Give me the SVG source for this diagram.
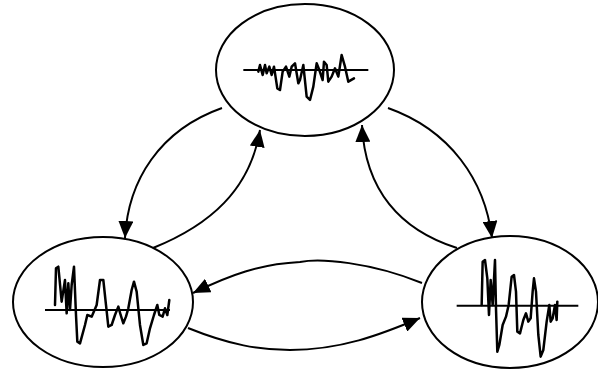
<svg xmlns="http://www.w3.org/2000/svg" width="598" height="375" viewBox="0 0 598 375">
<style>
.node ellipse{fill:#fff;stroke:#000;stroke-width:2}
.axis{stroke:#000;stroke-width:6;fill:none}
.wave{stroke:#000;stroke-width:7.5;fill:none;stroke-linejoin:round;stroke-linecap:round}
.conn path{fill:none;stroke:#000;stroke-width:2;marker-end:url(#ah)}
</style>
<defs>
<marker id="ah" viewBox="0 0 10 10" refX="10" refY="5" markerWidth="17" markerHeight="15" markerUnits="userSpaceOnUse" orient="auto" preserveAspectRatio="none">
<path d="M0,0 L10,5 L0,10 Z" fill="#000"/>
</marker>
</defs>
<rect width="598" height="375" fill="#fff"/>
<g id="connectors" class="conn">
<path d="M222,108 C160,130 128,180 125,238"/>
<path d="M153,248 C210,225 250,190 260,130"/>
<path d="M457,248 C400,230 365,190 362,125"/>
<path d="M388,108 C450,130 485,180 492,238"/>
<path d="M422,283 C370,262 320,258 300,262 C260,264 230,275 193,293"/>
<path d="M188,328 C230,345 260,350 290,350 C340,350 380,335 420,318"/>
</g>
<g id="node-top" class="node">
<ellipse cx="305" cy="70" rx="89" ry="66"/>
<g transform="translate(200,0) scale(0.3333)">
<line class="axis" x1="130" y1="210" x2="505" y2="210"/>
<polyline class="wave" points="175,215 180,195 188,225 195,195 200,220 208,200 215,225 222,200 232,265 240,270 248,215 258,200 268,230 275,200 285,190 295,250 300,240 310,195 320,290 330,300 340,260 350,190 358,210 368,240 372,185 380,195 385,245 395,230 405,205 415,230 425,165 435,200 445,245 462,235"/>
</g>
</g>
<g id="node-left" class="node">
<ellipse cx="103" cy="302" rx="90" ry="65"/>
<g transform="translate(0,225) scale(0.3333)">
<line class="axis" x1="135" y1="255" x2="510" y2="255"/>
<polyline class="wave" points="165,240 168,130 175,125 185,230 195,165 200,265 205,175 210,255 215,180 222,125 228,270 232,350 240,355 255,300 262,270 275,275 290,240 300,165 310,165 318,240 325,305 335,300 345,270 355,245 362,270 370,295 378,275 385,250 395,195 402,170 410,200 420,300 430,360 440,355 450,310 462,270 472,240 478,270 488,275 495,250 502,270 508,225"/>
</g>
</g>
<g id="node-right" class="node">
<ellipse cx="510" cy="302" rx="88" ry="66"/>
<g transform="translate(410,225) scale(0.3333)">
<line class="axis" x1="140" y1="242" x2="505" y2="242"/>
<polyline class="wave" points="215,240 218,110 225,105 232,160 237,270 242,165 248,240 255,105 258,250 262,380 268,360 278,300 288,275 296,240 305,155 312,150 318,200 322,320 330,325 340,285 348,265 355,290 362,280 368,200 372,160 378,200 385,330 392,395 400,375 410,290 418,240 422,290 428,280 435,240 440,285 442,230"/>
</g>
</g>
</svg>
